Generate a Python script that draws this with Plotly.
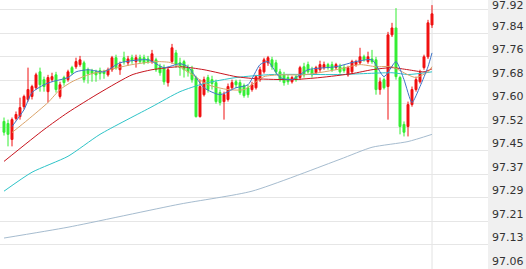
import plotly.graph_objects as go

# ---- candle data (index order, left to right) ----
opens = [97.549,97.542,97.489,97.559,97.565,97.598,97.622,97.632,97.661,97.714,
         97.688,97.648,97.688,97.704,97.632,97.695,97.688,97.728,97.731,97.738,
         97.744,97.721,97.718,97.714,97.718,97.714,97.704,97.721,97.761,97.721,
         97.761,97.744,97.761,97.748,97.761,97.761,97.757,97.748,97.754,97.731,
         97.728,97.678,97.748,97.777,97.744,97.748,97.728,97.721,97.695,97.565,
         97.638,97.695,97.688,97.678,97.645,97.615,97.622,97.661,97.681,97.678,
         97.668,97.661,97.655,97.661,97.688,97.714,97.744,97.754,97.744,97.714,
         97.704,97.695,97.681,97.698,97.695,97.731,97.738,97.721,97.711,97.721,
         97.728,97.738,97.738,97.728,97.731,97.728,97.704,97.714,97.738,97.744,
         97.764,97.748,97.757,97.754,97.655,97.688,97.665,97.837,97.860,97.695,
         97.539,97.532,97.605,97.655,97.681,97.728,97.764,97.870]
highs = [97.562,97.555,97.562,97.582,97.628,97.638,97.728,97.671,97.711,97.728,
         97.698,97.704,97.711,97.714,97.681,97.701,97.721,97.734,97.761,97.767,
         97.751,97.728,97.724,97.721,97.728,97.721,97.728,97.767,97.771,97.748,
         97.781,97.767,97.771,97.771,97.771,97.771,97.767,97.787,97.761,97.741,
         97.738,97.731,97.807,97.787,97.761,97.754,97.738,97.734,97.701,97.688,
         97.698,97.704,97.701,97.688,97.655,97.648,97.675,97.688,97.688,97.688,
         97.675,97.671,97.681,97.704,97.731,97.761,97.767,97.764,97.754,97.724,
         97.714,97.704,97.701,97.704,97.734,97.744,97.748,97.731,97.734,97.751,
         97.748,97.744,97.748,97.744,97.741,97.738,97.734,97.754,97.754,97.794,
         97.771,97.781,97.787,97.764,97.695,97.695,97.847,97.877,97.926,97.701,
         97.549,97.615,97.665,97.698,97.721,97.771,97.887,97.936]
lows = [97.502,97.466,97.466,97.552,97.555,97.589,97.615,97.622,97.655,97.648,
        97.648,97.612,97.681,97.645,97.625,97.668,97.681,97.704,97.724,97.731,
        97.678,97.675,97.681,97.681,97.688,97.691,97.698,97.714,97.721,97.704,
        97.738,97.734,97.741,97.728,97.741,97.738,97.741,97.741,97.714,97.701,
        97.671,97.665,97.741,97.728,97.701,97.695,97.698,97.678,97.562,97.562,
        97.632,97.645,97.655,97.608,97.602,97.555,97.615,97.655,97.661,97.638,
        97.628,97.628,97.648,97.655,97.681,97.708,97.734,97.721,97.708,97.681,
        97.668,97.671,97.675,97.681,97.688,97.695,97.708,97.695,97.704,97.714,
        97.721,97.721,97.714,97.721,97.708,97.711,97.698,97.708,97.731,97.738,
        97.748,97.741,97.741,97.638,97.638,97.655,97.555,97.830,97.688,97.506,
        97.499,97.499,97.598,97.648,97.675,97.721,97.757,97.860]
closes = [97.513,97.506,97.555,97.572,97.595,97.632,97.655,97.665,97.704,97.671,
          97.665,97.695,97.698,97.655,97.671,97.678,97.714,97.711,97.748,97.754,
          97.688,97.708,97.708,97.704,97.708,97.708,97.721,97.761,97.728,97.738,
          97.748,97.757,97.751,97.761,97.748,97.744,97.748,97.774,97.721,97.711,
          97.681,97.721,97.794,97.738,97.728,97.721,97.714,97.688,97.565,97.665,
          97.688,97.655,97.675,97.615,97.612,97.638,97.665,97.678,97.671,97.645,
          97.635,97.638,97.671,97.698,97.721,97.754,97.761,97.731,97.714,97.688,
          97.678,97.681,97.695,97.688,97.728,97.704,97.714,97.704,97.728,97.738,
          97.738,97.728,97.721,97.738,97.714,97.718,97.728,97.748,97.748,97.764,
          97.754,97.764,97.748,97.655,97.681,97.661,97.837,97.860,97.698,97.532,
          97.513,97.605,97.655,97.688,97.711,97.764,97.877,97.907]

# ---- moving average lines (read at sample candles) ----
ma5_idx = [2,5,7,10,12,16,18,21,25,29,36,40,44,46,50,54,58,61,64,66,69,72,76,83,88,92,95,98,100,102,104,106,107]
ma5_val = [97.532,97.588,97.645,97.671,97.681,97.695,97.714,97.721,97.714,97.744,97.754,97.728,97.741,97.731,
           97.661,97.638,97.661,97.671,97.738,97.748,97.695,97.688,97.721,97.731,97.748,97.754,97.698,97.748,
           97.688,97.612,97.665,97.731,97.777]
ma10_idx = [2,6,11,14,17,21,24,32,38,42,46,51,56,60,65,69,75,83,89,93,97,101,103,106,107]
ma10_val = [97.512,97.555,97.612,97.655,97.681,97.704,97.714,97.738,97.748,97.744,97.714,97.671,97.655,97.655,
            97.698,97.704,97.704,97.721,97.738,97.731,97.731,97.704,97.695,97.714,97.731]
ma20_idx = [0,10,16,24,32,37,44,50,58,63,72,79,87,92,97,101,105,107]
ma20_val = [97.416,97.522,97.579,97.645,97.704,97.721,97.731,97.721,97.698,97.691,97.688,97.695,97.708,97.721,
            97.728,97.721,97.714,97.724]
ma60_idx = [0,7,16,24,37,44,50,58,67,84,97,101,107]
ma60_val = [97.317,97.380,97.433,97.506,97.598,97.648,97.675,97.695,97.705,97.705,97.711,97.705,97.714]
ma120_idx = [0,16,44,62,84,92,101,107]
ma120_val = [97.161,97.197,97.274,97.317,97.423,97.463,97.482,97.506]

# ---- axis ticks ----
tick_vals = [97.9202,97.8420,97.7638,97.6856,97.6074,97.5292,97.4510,97.3728,97.2946,97.2164,97.1382,97.0600]
tick_text = ["97.92","97.84","97.76","97.68","97.60","97.52","97.45","97.37","97.29","97.21","97.13","97.06"]

UP = "#f01010"
DOWN = "#33ee33"

idx = list(range(len(opens)))
fig = go.Figure()

def add_line(xs, ys, color, width=1):
    fig.add_trace(go.Scatter(x=xs, y=ys, mode="lines", line=dict(color=color, width=width, shape="spline", smoothing=0.6),
                             hoverinfo="skip", showlegend=False))

add_line(ma120_idx, ma120_val, "#a6bccf")
add_line(ma60_idx, ma60_val, "#2ec4c8")
add_line(ma20_idx, ma20_val, "#c8141e")

fig.add_trace(go.Candlestick(
    x=idx, open=opens, high=highs, low=lows, close=closes,
    increasing=dict(line=dict(color=UP, width=1), fillcolor=UP),
    decreasing=dict(line=dict(color=DOWN, width=1), fillcolor=DOWN),
    whiskerwidth=0, showlegend=False, hoverinfo="skip"))

add_line(ma10_idx, ma10_val, "#dba46a")
add_line(ma5_idx, ma5_val, "#3d74c8")

fig.add_shape(type="line", x0=idx[-1], x1=idx[-1], y0=0, y1=1, xref="x", yref="paper",
              line=dict(color="#e2e2e2", width=1), layer="below")

for k, (v, t) in enumerate(zip(tick_vals, tick_text)):
    fig.add_annotation(x=1, xref="paper", y=v, yref="y", text=t, showarrow=False,
                       xanchor="left", yanchor="middle", xshift=2, yshift=(4 if k == 0 else 7),
                       font=dict(family="DejaVu Sans", size=11, color="#333333"))

fig.update_layout(
    width=526, height=269,
    margin=dict(l=0, r=38, t=0, b=0),
    paper_bgcolor="#f0f0f0", plot_bgcolor="white",
    xaxis=dict(range=[-1, 121], visible=False, rangeslider=dict(visible=False), fixedrange=True),
    yaxis=dict(range=[97.058, 97.953], side="right", tickvals=tick_vals, showticklabels=False,
               showgrid=True, gridcolor="#e6e6e6", gridwidth=1, zeroline=False, showline=False,
               ticks="", fixedrange=True),
    font=dict(family="DejaVu Sans"),
)

fig.write_html("out.html", config={"displayModeBar": False})
